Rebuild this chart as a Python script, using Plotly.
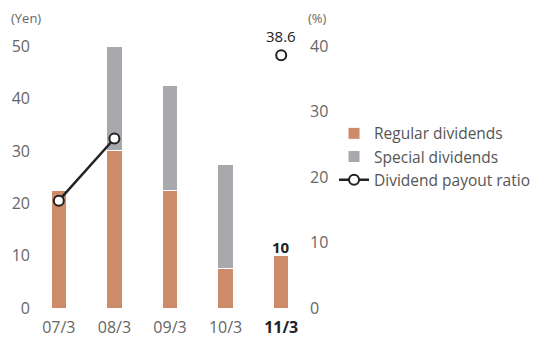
import plotly.graph_objects as go

categories = ["07/3", "08/3", "09/3", "10/3", "11/3"]
regular = [22.5, 30, 22.5, 7.5, 10]
special = [0, 20, 20, 20, 0]
payout = [16.4, 25.9, None, None, 38.6]
tick_text = ["07/3", "08/3", "09/3", "10/3", "<b><span style='color:#222'>11/3</span></b>"]

REG_C = "#CD8B6A"
SPE_C = "#A8A9AC"
TXT = "#666666"
FONT = "Open Sans"

fig = go.Figure()
fig.add_trace(go.Bar(x=categories, y=regular, name="Regular dividends", legendgroup="a",
                     marker=dict(color=REG_C, line=dict(color="white", width=1)),
                     width=0.28))
fig.add_trace(go.Bar(x=categories, y=special, name="Special dividends", legendgroup="b",
                     marker=dict(color=SPE_C, line=dict(color="white", width=1)),
                     width=0.28))
fig.add_trace(go.Scatter(x=categories, y=payout, name="Dividend payout ratio", yaxis="y2",
                         legendgroup="c",
                         mode="lines+markers", connectgaps=False,
                         line=dict(color="#222222", width=2.5),
                         marker=dict(size=10, color="white", line=dict(color="#222222", width=2))))

fig.add_annotation(x=categories[4], y=payout[4], yref="y2", text="38.6", showarrow=False,
                   yshift=19, font=dict(size=15, color="#222", family=FONT))
fig.add_annotation(x=categories[4], y=regular[4], text="<b>10</b>", showarrow=False,
                   yshift=9, font=dict(size=15, color="#222", family=FONT))
fig.add_annotation(xref="paper", yref="paper", x=-0.078, y=1.007, xanchor="left", yanchor="middle",
                   text="(Yen)", showarrow=False, font=dict(size=13, color=TXT, family=FONT))
fig.add_annotation(xref="paper", yref="paper", x=0.99, y=1.007, xanchor="left", yanchor="middle",
                   text="(%)", showarrow=False, font=dict(size=13, color=TXT, family=FONT))

fig.update_layout(
    width=534, height=335,
    margin=dict(l=23, r=233, t=12, b=35, autoexpand=False),
    barmode="stack",
    plot_bgcolor="white", paper_bgcolor="white",
    font=dict(family=FONT, size=14, color=TXT),
    showlegend=True,
    legend=dict(x=1.09, y=0.664, xanchor="left", yanchor="top",
                font=dict(size=15.5, color="#555", family=FONT),
                tracegroupgap=9, itemwidth=30, traceorder="normal"),
    xaxis=dict(tickvals=categories, ticktext=tick_text, showgrid=False, zeroline=False,
               showline=False, ticks="", tickfont=dict(size=16, color=TXT),
               ticklabelstandoff=8),
    yaxis=dict(range=[0, 55], tickvals=[0, 10, 20, 30, 40, 50], showgrid=False,
               zeroline=False, showline=False, ticks="", tickfont=dict(size=16, color=TXT)),
    yaxis2=dict(range=[0, 44], tickvals=[0, 10, 20, 30, 40], overlaying="y", side="right",
                showgrid=False, zeroline=False, showline=False, ticks="",
                tickfont=dict(size=16, color=TXT)),
)

fig.write_html("out.html")
